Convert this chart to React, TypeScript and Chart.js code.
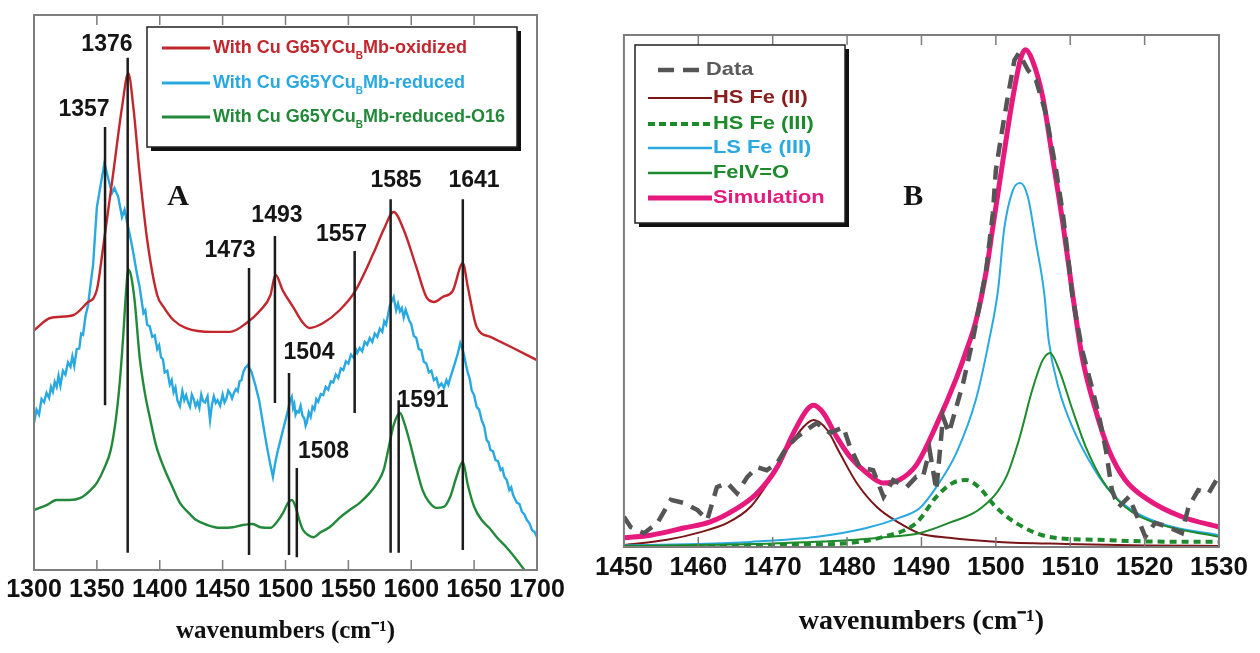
import React, { useEffect, useRef } from 'react';
import { Chart, registerables } from 'chart.js';
Chart.register(...registerables);

// ---------------- Panel A data ----------------
const ticksA = [1300, 1700, 50];
const redWave = [1300,1313,1331,1342,1350,1355,1363,1370,1375,1379,1384,1390,1398,1403,1411,1421,1442,1456,1469,1480,1488,1492,1498,1506,1514,1519,1530,1543,1555,1570,1578,1586,1594,1604,1612,1618,1625,1633,1641,1645,1652,1663,1681,1700];
const redVal = [43.2,45.4,45.9,48.1,50.5,58.2,71.5,83.4,89.5,83.4,71.5,59.5,49.5,47.4,45.0,43.6,42.9,42.9,44.5,46.8,49.5,53.2,50.3,47.4,44.5,43.6,44.5,46.8,50.1,57.1,61.3,64.5,61.3,54.6,49.2,48.3,49.2,50.3,55.3,51.0,43.8,42.0,40.0,37.8];

const blueWave = [
  1300,1302,1304,1306,1308,1310,1312,1313.5,1315,1316.5,1318,1319.5,1321,1323,1325,1327,1329,1330.5,1332,1334,
  1336,1337.5,1339,1341,1343,1345,1347,1350,1353,1356,1359,1362,1364,1367,1370,1372,1374,1377,1379,1382,
  1384,1387,1388.5,1390,1392,1394,1396,1398,1399.5,1401,1402.5,1404,1406,1408,1409.5,1411,1412.5,1414,1416,1418,
  1419.5,1421,1422.5,1424,1425.5,1427,1428.5,1430,1431.5,1433,1434.5,1436,1438,1440,1441.5,1443,1444.5,1446,1448,1450,
  1451.5,1453,1454.5,1456,1457.5,1459,1460.5,1462,1463.5,1465,1466.5,1468,1470,1473,1476,1479,1482,1485,1488,1490,
  1492,1494,1497,1500,1502,1503.5,1505,1506,1507,1508,1509,1510.5,1512,1513.5,1515,1516,1517,1518.5,1520,1521.5,
  1523,1524.5,1526,1528,1530,1532,1534,1536,1538,1540,1542,1544,1546,1548,1550,1552,1554,1556,1557,1559,
  1561,1563,1565,1567,1569,1571,1573,1575,1577,1578.5,1580,1583,1586,1588,1589.5,1591,1592.5,1594,1595.5,1597,
  1598.5,1600,1602,1604,1606,1608,1610,1612,1614,1616,1618,1620,1622,1624,1626,1628,1629.5,1631,1633,1635,
  1637,1639,1640.5,1642,1643.5,1645,1646.5,1648,1650,1652,1654,1656,1658,1660,1661.5,1663,1665,1667,1669,1671,
  1672.5,1674,1676,1678,1679.5,1681,1682.5,1684,1686,1688,1690,1692,1694,1696,1698,1700];
const blueVal = [
  26.5,28.9,28.0,30.8,30.2,31.9,31.0,33.0,32.1,33.9,33.0,35.0,33.2,35.9,35.2,37.4,36.6,38.5,36.8,39.8,
  39.9,42.6,42.4,45.8,47.7,51.5,55.0,65.4,69.4,73.3,70.6,67.9,68.8,67.2,63.6,64.9,62.7,59.5,57.1,53.2,
  51.0,46.3,46.8,44.2,43.9,42.0,42.3,39.8,40.5,38.3,38.0,35.6,35.9,33.4,34.2,32.0,32.9,30.6,29.5,32.2,
  30.6,31.5,30.2,29.4,31.6,30.8,29.5,30.3,29.2,31.6,30.4,30.2,31.3,27.0,29.8,31.3,30.1,30.6,29.6,31.6,
  30.2,30.9,32.3,31.8,30.9,31.9,32.6,32.2,34.0,34.2,35.7,36.4,36.9,35.7,33.3,30.6,26.5,22.5,18.9,16.8,
  19.5,21.6,24.3,27.0,28.8,30.4,31.2,29.2,29.9,28.0,28.6,28.4,29.6,27.8,27.3,26.0,26.6,28.4,27.6,29.4,
  28.9,30.8,30.3,31.7,31.5,33.0,32.5,34.0,33.8,35.2,34.6,36.3,36.0,37.6,37.2,38.8,38.3,39.7,39.1,40.0,
  39.4,41.1,40.6,41.8,41.1,42.6,42.0,43.5,42.9,44.8,44.2,47.7,49.2,46.8,48.0,46.6,47.2,45.5,46.9,45.9,
  44.9,44.3,42.2,41.8,39.8,39.6,37.5,37.2,35.6,35.9,34.2,34.6,33.0,33.6,32.8,34.2,33.4,34.6,36.0,37.5,
  39.0,40.9,40.0,38.7,37.0,35.5,34.5,32.4,31.5,29.4,28.9,27.0,25.9,23.4,23.0,21.6,21.4,19.8,19.6,18.0,
  18.3,16.8,16.2,14.4,14.9,13.5,12.8,12.1,11.9,10.5,10.0,9.0,8.4,7.2,6.9,5.9];

const greenWave = [1300,1310,1318,1328,1337,1345,1350,1356,1361,1365,1368,1371,1373,1375,1377,1380,1384,1388,1392,1397,1403,1410,1416,1423,1429,1438,1448,1458,1466,1474,1480,1488,1493,1498,1502,1505,1508,1511,1514,1518,1522,1528,1535,1543,1551,1559,1567,1573,1578,1582,1586,1591,1595,1599,1604,1609,1614,1620,1626,1631,1636,1641,1645,1650,1656,1662,1668,1676,1684,1690,1700];
const greenVal = [10.8,11.7,12.6,12.6,13.0,14.4,15.7,18.4,21.6,27.0,33.3,42.3,49.5,54.1,53.2,48.6,38.4,32.1,27.6,22.5,18.6,15.0,12.1,10.3,9.0,8.1,7.6,7.7,8.1,8.3,7.7,7.6,8.6,10.3,12.1,12.6,11.4,9.0,7.2,6.3,5.9,6.8,7.7,9.4,10.8,12.1,13.9,15.7,18.0,22.0,26.1,28.3,26.1,22.9,18.4,14.4,12.3,11.2,11.4,13.2,16.8,19.5,15.3,11.4,9.0,7.6,5.9,4.0,1.8,0,-2.7];

// peak markers: wavenumber of line, top and bottom intensity
const peakText = ['1376','1357','1473','1493','1557','1585','1641','1504','1508','1591'];
const peakWave = [1374.5,1356.5,1471,1491.6,1555,1583.6,1641,1502.8,1509,1590];
const peakTop = [92.3,79.8,54.4,60.2,57.5,66.8,66.8,35.5,18.4,30.6];
const peakBottom = [3.1,29.7,2.7,30.1,28.3,3.1,3.6,2.7,2.3,3.1];
const peakLabelWave = [1358,1339.8,1455.9,1493.2,1544.5,1587.9,1649.9,1518.7,1530.2,1609.3];
const peakLabelVal = [94.6,82.9,57.5,63.8,60.5,70.1,70.1,39.1,21.3,30.5];

const legendA = [
  ['With Cu G65YCu', 'B', 'Mb-oxidized'],
  ['With Cu G65YCu', 'B', 'Mb-reduced'],
  ['With Cu G65YCu', 'B', 'Mb-reduced-O16'],
];

// ---------------- Panel B data ----------------
const ticksB = [1450, 1530, 10];
const dataWave = [1450,1450.9,1452.7,1454.5,1456.3,1458.1,1459.9,1461.2,1462.5,1463.9,1465.2,1466.6,1467.9,1469.2,1470.6,1471.9,1473.3,1474.6,1475.9,1477.7,1479.5,1480.4,1481.7,1483.5,1484.9,1486.2,1488,1489.3,1490.2,1491.1,1492,1492.9,1493.7,1495.6,1496.9,1498.2,1498.7,1499.6,1500,1500.7,1501.6,1502.5,1503.1,1504.3,1505.4,1506.7,1508.1,1509,1509.8,1510.3,1511.6,1513,1513.9,1514.8,1515.6,1516.5,1517.9,1518.8,1520.1,1521.4,1523.2,1525,1525.9,1527.2,1528.6,1529.9];
const dataVal = [5.9,3.9,2.7,4.7,9.2,8.6,7.2,5.3,11.7,12.5,10.5,13.7,15.6,15.0,16.4,19.5,21.5,22.9,24.2,22.3,23.4,19.5,15.6,15.0,9.8,13.1,11.7,13.7,13.7,18.9,11.1,25.4,22.3,32.0,40.4,50.2,54.1,65.2,73.6,80.1,87.9,95.1,96.5,93.2,91.2,84.8,73.6,65.2,55.5,48.8,38.5,30.7,25.4,18.9,11.1,7.8,9.8,6.6,2.0,4.7,3.9,2.7,7.8,11.1,10.5,13.7];

const simWave = [1450,1453.6,1458,1461.6,1464.8,1467.9,1470.6,1472.8,1474.6,1475.5,1476.8,1478.6,1480.4,1482.6,1484.9,1487,1489.3,1492,1494.7,1496,1497.3,1498.7,1499.6,1500.9,1502.3,1503.4,1504,1504.9,1506.3,1507.6,1509,1510.3,1511.6,1513.4,1515.2,1517.4,1520.5,1525,1530];
const simVal = [1.8,2.3,3.7,4.9,7.2,10.5,15.6,22.3,26.8,27.7,26.2,21.5,17.6,14.5,12.5,13.1,16.0,23.8,33.0,38.2,44.0,53.8,62.5,75.0,87.9,95.7,97.1,95.1,87.9,76.2,63.3,49.6,37.1,26.8,18.9,13.1,9.2,5.9,3.9];

const hs2Wave = [1450,1455.8,1460.3,1463.9,1467,1469.6,1471.9,1474.1,1475.5,1477.3,1479,1481.3,1484,1487,1489.7,1493.7,1500.4,1509.4,1520,1530];
const hs2Val = [0.4,1.4,2.9,4.7,7.8,13.1,18.9,23.4,24.8,22.9,18.4,12.5,7.8,4.7,2.7,1.8,1.0,0.6,0.3,0.2];

const hs3Wave = [1450,1465,1475,1480.4,1484.9,1489.3,1492,1494.2,1496,1497.7,1500,1502.7,1507.1,1513.8,1520,1530];
const hs3Val = [0.1,0.3,0.5,0.8,2.0,4.7,9.8,12.5,13.1,11.7,7.8,4.7,2.0,1.4,1.1,1.0];

const lsWave = [1450,1460,1467,1476,1482.6,1487,1489.7,1492,1494.7,1497.3,1499.1,1500.3,1501.1,1502.3,1503.3,1504.3,1505.4,1506.5,1507.1,1508.5,1510.3,1512.5,1515.2,1518.3,1522.8,1530];
const lsVal = [0.3,0.6,1.0,2.0,3.7,5.7,7.5,11.7,18.4,28.7,40.4,50.2,61.9,69.7,71.1,68.4,59.4,49.6,40.4,30.7,23.4,17.0,11.1,7.2,4.3,2.3];

const fe4Wave = [1450,1460,1470,1480,1485,1489.7,1493.7,1498.2,1501.4,1503.1,1504.9,1506.3,1507.3,1508.5,1510.3,1512.1,1514.3,1517.4,1521.4,1530];
const fe4Val = [0.2,0.4,0.7,1.3,1.9,2.7,4.7,7.8,13.7,20.9,30.7,36.5,37.9,34.6,26.8,19.5,13.1,7.8,4.7,2.0];

const legendB = ['Data', 'HS Fe (II)', 'HS Fe (III)', 'LS Fe (III)', 'FeIV=O', 'Simulation'];
const axisTitle = 'wavenumbers (cm\u207B\u00B9)';

// ---------------- helpers ----------------
const zip = (w: number[], v: number[]) => w.map((x, i) => ({ x, y: v[i] }));
const SANS = '"Liberation Sans", Arial, sans-serif';
const SERIF = '"Liberation Serif", "Times New Roman", serif';

const RED = '#c1272d', BLUE = '#29a9e0', GREEN = '#23893a';
const GRAY = '#555555', MAROON = '#7a1518', DGREEN = '#1d8a2c', PINK = '#e6197d';

function drawFrame(chart: any, tickLen: number) {
  const { ctx, chartArea: ca, scales } = chart;
  const x = scales.x;
  ctx.save();
  ctx.strokeStyle = '#7d7d7d';
  ctx.lineWidth = 1.5;
  for (const t of x.ticks) {
    const px = x.getPixelForValue(t.value);
    if (px <= ca.left + 1 || px >= ca.right - 1) continue;
    ctx.beginPath();
    ctx.moveTo(px, ca.bottom); ctx.lineTo(px, ca.bottom - tickLen);
    ctx.moveTo(px, ca.top); ctx.lineTo(px, ca.top + tickLen);
    ctx.stroke();
  }
  ctx.lineWidth = 2;
  ctx.strokeRect(ca.left, ca.top, ca.right - ca.left, ca.bottom - ca.top);
  ctx.restore();
}

function legendBox(ctx: CanvasRenderingContext2D, x: number, y: number, w: number, h: number) {
  ctx.fillStyle = '#111';
  ctx.fillRect(x + 4, y + 4, w, h);
  ctx.fillStyle = '#fff';
  ctx.fillRect(x, y, w, h);
  ctx.strokeStyle = '#222';
  ctx.lineWidth = 1.5;
  ctx.strokeRect(x, y, w, h);
}

function xAxis(tk: number[], tickSize: number, titleSize: number, height: number, titlePad: number) {
  return {
    type: 'linear' as const,
    min: tk[0], max: tk[1],
    afterFit: (s: any) => { s.height = height; },
    grid: { display: false, drawTicks: false },
    border: { display: false },
    ticks: {
      stepSize: tk[2], padding: 5, color: '#111', autoSkip: false, maxRotation: 0,
      font: { family: SANS, size: tickSize, weight: 'bold' as const },
      callback: (v: any) => String(v),
    },
    title: {
      display: true, text: axisTitle, color: '#111',
      font: { family: SERIF, size: titleSize, weight: 'bold' as const },
      padding: { top: 0, bottom: titlePad },
    },
  };
}

function buildA(canvas: HTMLCanvasElement) {
  const markers = peakWave.map((w, i) => ({
    data: [{ x: w, y: peakTop[i] }, { x: w, y: peakBottom[i] }],
    borderColor: '#1c1c1c', borderWidth: 2.5, pointRadius: 0,
  }));
  const series = [
    { data: zip(redWave, redVal), borderColor: RED, borderWidth: 2.4, cubicInterpolationMode: 'monotone' },
    { data: zip(blueWave, blueVal), borderColor: BLUE, borderWidth: 2.4, tension: 0 },
    { data: zip(greenWave, greenVal), borderColor: GREEN, borderWidth: 2.4, cubicInterpolationMode: 'monotone' },
  ];
  const colors = [RED, BLUE, GREEN];
  const plugin = {
    id: 'panelA',
    afterDatasetsDraw(chart: any) { drawFrame(chart, 10); },
    afterDraw(chart: any) {
      const { ctx, scales: { x, y } } = chart;
      ctx.save();
      ctx.fillStyle = '#151515';
      ctx.font = `bold 23px ${SANS}`;
      ctx.textAlign = 'center';
      ctx.textBaseline = 'middle';
      peakText.forEach((t, i) => {
        ctx.fillText(t, x.getPixelForValue(peakLabelWave[i]), y.getPixelForValue(peakLabelVal[i]));
      });
      ctx.font = `bold 30px ${SERIF}`;
      ctx.fillText('A', x.getPixelForValue(1414.5), y.getPixelForValue(67.2));
      // legend
      legendBox(ctx, 147, 27, 370, 120);
      const rows = [48, 83, 117];
      legendA.forEach((parts, i) => {
        ctx.strokeStyle = colors[i];
        ctx.lineWidth = 3;
        ctx.beginPath(); ctx.moveTo(162, rows[i]); ctx.lineTo(210, rows[i]); ctx.stroke();
        ctx.fillStyle = colors[i];
        ctx.textAlign = 'left';
        ctx.textBaseline = 'middle';
        ctx.font = `bold 18px ${SANS}`;
        let tx = 213;
        ctx.fillText(parts[0], tx, rows[i]);
        tx += ctx.measureText(parts[0]).width;
        ctx.font = `bold 10px ${SANS}`;
        ctx.fillText(parts[1], tx, rows[i] + 8);
        tx += ctx.measureText(parts[1]).width;
        ctx.font = `bold 18px ${SANS}`;
        ctx.fillText(parts[2], tx, rows[i]);
      });
      ctx.restore();
    },
  };
  return new Chart(canvas, {
    type: 'line',
    data: { datasets: [...markers, ...series] as any },
    options: {
      animation: false, responsive: false, maintainAspectRatio: false,
      layout: { padding: { left: 34, right: 53, top: 15, bottom: 0 } },
      elements: { point: { radius: 0 } },
      plugins: { legend: { display: false }, tooltip: { enabled: false } },
      scales: {
        x: xAxis(ticksA, 25, 25, 83, 6) as any,
        y: { display: false, min: 0, max: 100 },
      },
    },
    plugins: [plugin],
  });
}

function buildB(canvas: HTMLCanvasElement) {
  const series = [
    { data: zip(dataWave, dataVal), borderColor: GRAY, borderWidth: 4.5, borderDash: [14, 9], tension: 0 },
    { data: zip(simWave, simVal), borderColor: PINK, borderWidth: 5, cubicInterpolationMode: 'monotone' },
    { data: zip(fe4Wave, fe4Val), borderColor: DGREEN, borderWidth: 2, cubicInterpolationMode: 'monotone' },
    { data: zip(lsWave, lsVal), borderColor: BLUE, borderWidth: 2, cubicInterpolationMode: 'monotone' },
    { data: zip(hs3Wave, hs3Val), borderColor: DGREEN, borderWidth: 4, borderDash: [7, 5], cubicInterpolationMode: 'monotone' },
    { data: zip(hs2Wave, hs2Val), borderColor: MAROON, borderWidth: 2, cubicInterpolationMode: 'monotone' },
  ];
  const legColors = [GRAY, MAROON, DGREEN, BLUE, DGREEN, PINK];
  const legTextColors = ['#5a5a5a', '#8a1c1c', DGREEN, BLUE, DGREEN, PINK];
  const legWidths = [4.5, 2, 4, 2.5, 2.5, 5];
  const legDash = [[16, 9], [], [7, 4], [], [], []];
  const rows = [70, 98, 124, 148, 173, 198];
  const plugin = {
    id: 'panelB',
    afterDatasetsDraw(chart: any) { drawFrame(chart, 10); },
    afterDraw(chart: any) {
      const { ctx, scales: { x, y } } = chart;
      ctx.save();
      ctx.fillStyle = '#151515';
      ctx.font = `bold 30px ${SERIF}`;
      ctx.textAlign = 'center';
      ctx.textBaseline = 'middle';
      ctx.fillText('B', x.getPixelForValue(1488.9), y.getPixelForValue(68.4));
      legendBox(ctx, 45, 45, 210, 178);
      legendB.forEach((t, i) => {
        ctx.strokeStyle = legColors[i];
        ctx.lineWidth = legWidths[i];
        ctx.setLineDash(legDash[i]);
        ctx.beginPath();
        ctx.moveTo(i === 0 ? 68 : 58, rows[i]);
        ctx.lineTo(i === 0 ? 112 : 122, rows[i]);
        ctx.stroke();
        ctx.setLineDash([]);
        ctx.fillStyle = legTextColors[i];
        ctx.textAlign = 'left';
        ctx.font = `bold 19px ${SANS}`;
        ctx.save();
        ctx.translate(i === 0 ? 116 : 123, rows[i]);
        ctx.scale(1.15, 1);
        ctx.fillText(t, 0, 0);
        ctx.restore();
      });
      ctx.restore();
    },
  };
  return new Chart(canvas, {
    type: 'line',
    data: { datasets: series as any },
    options: {
      animation: false, responsive: false, maintainAspectRatio: false,
      layout: { padding: { left: 31, right: 41, top: 35, bottom: 0 } },
      elements: { point: { radius: 0 } },
      plugins: { legend: { display: false }, tooltip: { enabled: false } },
      scales: {
        x: xAxis(ticksB, 26, 28, 106, 14) as any,
        y: { display: false, min: 0, max: 100 },
      },
    },
    plugins: [plugin],
  });
}

export default function App() {
  const refA = useRef<HTMLCanvasElement>(null);
  const refB = useRef<HTMLCanvasElement>(null);
  useEffect(() => {
    const a = buildA(refA.current!);
    const b = buildB(refB.current!);
    return () => { a.destroy(); b.destroy(); };
  }, []);
  return (
    <div style={{ position: 'absolute', left: 0, top: 0, width: 1260, height: 653, background: '#fff' }}>
      <canvas ref={refA} width={590} height={653} style={{ position: 'absolute', left: 0, top: 0, width: 590, height: 653 }} />
      <canvas ref={refB} width={670} height={653} style={{ position: 'absolute', left: 590, top: 0, width: 670, height: 653 }} />
    </div>
  );
}
